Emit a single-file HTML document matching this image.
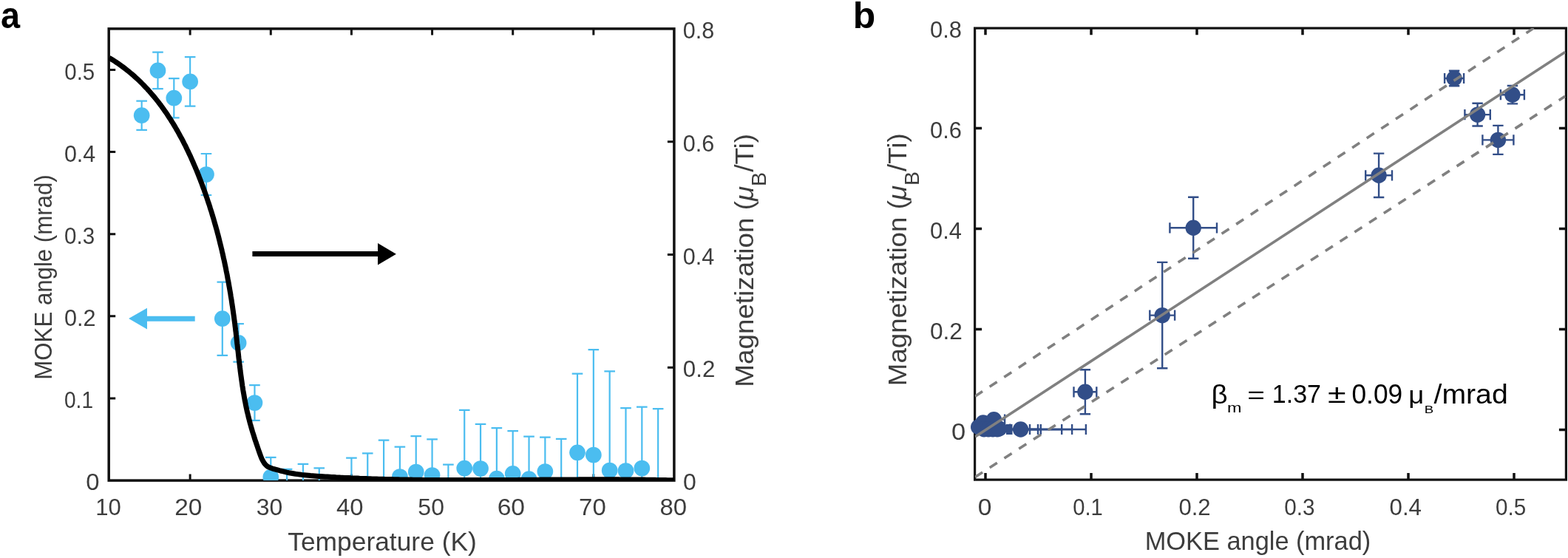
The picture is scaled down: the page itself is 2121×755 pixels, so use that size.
<!DOCTYPE html><html><head><meta charset="utf-8"><style>html,body{margin:0;padding:0;background:#fff;width:2121px;height:755px;overflow:hidden}svg{display:block}text{font-family:"Liberation Sans", Arial, sans-serif}</style></head><body>
<svg width="2121" height="755" viewBox="0 0 2121 755">
<rect width="2121" height="755" fill="#fff"/>
<defs><clipPath id="ca"><rect x="147.2" y="38.9" width="764.7" height="611.2"/></clipPath></defs>
<g stroke="#111111" stroke-width="3.5" fill="none">
<rect x="147.2" y="38.9" width="764.7" height="611.2"/>
<path d="M257.14,650.10V641.60M257.14,38.90V47.40M366.28,650.10V641.60M366.28,38.90V47.40M475.42,650.10V641.60M475.42,38.90V47.40M584.56,650.10V641.60M584.56,38.90V47.40M693.70,650.10V641.60M693.70,38.90V47.40M802.84,650.10V641.60M802.84,38.90V47.40M147.20,538.90H156.20M147.20,427.80H156.20M147.20,316.70H156.20M147.20,205.60H156.20M147.20,94.50H156.20M911.90,497.25H902.90M911.90,344.50H902.90M911.90,191.75H902.90" stroke-width="3"/>
</g>
<g clip-path="url(#ca)">
<g stroke="#4bbdf0" stroke-width="2.2" fill="none">
<path d="M191.66,136.60V175.80M184.36,136.60H198.96M184.36,175.80H198.96"/>
<path d="M213.48,70.60V120.20M206.18,70.60H220.78M206.18,120.20H220.78"/>
<path d="M235.31,106.10V159.30M228.01,106.10H242.61M228.01,159.30H242.61"/>
<path d="M257.14,77.20V143.60M249.84,77.20H264.44M249.84,143.60H264.44"/>
<path d="M278.97,208.00V264.00M271.67,208.00H286.27M271.67,264.00H286.27"/>
<path d="M300.80,381.60V480.80M293.50,381.60H308.10M293.50,480.80H308.10"/>
<path d="M322.62,438.10V489.70M315.32,438.10H329.92M315.32,489.70H329.92"/>
<path d="M344.45,521.20V568.80M337.15,521.20H351.75M337.15,568.80H351.75"/>
<path d="M366.28,618.80V672.20M358.98,618.80H373.58M358.98,672.20H373.58"/>
<path d="M388.11,634.80V689.20M380.81,634.80H395.41M380.81,689.20H395.41"/>
<path d="M409.94,627.80V696.20M402.64,627.80H417.24M402.64,696.20H417.24"/>
<path d="M431.76,633.30V690.70M424.46,633.30H439.06M424.46,690.70H439.06"/>
<path d="M475.42,619.60V704.40M468.12,619.60H482.72M468.12,704.40H482.72"/>
<path d="M497.25,613.30V710.70M489.95,613.30H504.55M489.95,710.70H504.55"/>
<path d="M519.08,595.60V728.40M511.78,595.60H526.38M511.78,728.40H526.38"/>
<path d="M540.90,604.70V685.30M533.60,604.70H548.20M533.60,685.30H548.20"/>
<path d="M562.73,590.10V686.90M555.43,590.10H570.03M555.43,686.90H570.03"/>
<path d="M584.56,594.30V691.70M577.26,594.30H591.86M577.26,691.70H591.86"/>
<path d="M606.39,628.70V695.30M599.09,628.70H613.69M599.09,695.30H613.69"/>
<path d="M628.22,554.80V712.40M620.92,554.80H635.52M620.92,712.40H635.52"/>
<path d="M650.04,573.90V694.10M642.74,573.90H657.34M642.74,694.10H657.34"/>
<path d="M671.87,579.20V716.00M664.57,579.20H679.17M664.57,716.00H679.17"/>
<path d="M693.70,583.20V698.60M686.40,583.20H701.00M686.40,698.60H701.00"/>
<path d="M715.53,590.60V705.60M708.23,590.60H722.83M708.23,705.60H722.83"/>
<path d="M737.36,591.70V684.30M730.06,591.70H744.66M730.06,684.30H744.66"/>
<path d="M759.18,593.80V730.20M751.88,593.80H766.48M751.88,730.20H766.48"/>
<path d="M781.01,505.60V719.00M773.71,505.60H788.31M773.71,719.00H788.31"/>
<path d="M802.84,473.20V757.80M795.54,473.20H810.14M795.54,757.80H810.14"/>
<path d="M824.67,502.40V770.60M817.37,502.40H831.97M817.37,770.60H831.97"/>
<path d="M846.50,552.20V721.80M839.20,552.20H853.80M839.20,721.80H853.80"/>
<path d="M868.32,550.60V716.40M861.02,550.60H875.62M861.02,716.40H875.62"/>
<path d="M890.15,553.20V770.80M882.85,553.20H897.45M882.85,770.80H897.45"/>
</g>
<g fill="#4bbdf0">
<circle cx="191.66" cy="156.20" r="10.85"/>
<circle cx="213.48" cy="95.40" r="10.85"/>
<circle cx="235.31" cy="132.70" r="10.85"/>
<circle cx="257.14" cy="110.40" r="10.85"/>
<circle cx="278.97" cy="236.00" r="10.85"/>
<circle cx="300.80" cy="431.20" r="10.85"/>
<circle cx="322.62" cy="463.90" r="10.85"/>
<circle cx="344.45" cy="545.00" r="10.85"/>
<circle cx="366.28" cy="645.50" r="10.85"/>
<circle cx="540.90" cy="645.00" r="10.85"/>
<circle cx="562.73" cy="638.50" r="10.85"/>
<circle cx="584.56" cy="643.00" r="10.85"/>
<circle cx="628.22" cy="633.60" r="10.85"/>
<circle cx="650.04" cy="634.00" r="10.85"/>
<circle cx="671.87" cy="647.60" r="10.85"/>
<circle cx="693.70" cy="640.90" r="10.85"/>
<circle cx="715.53" cy="648.10" r="10.85"/>
<circle cx="737.36" cy="638.00" r="10.85"/>
<circle cx="781.01" cy="612.30" r="10.85"/>
<circle cx="802.84" cy="615.50" r="10.85"/>
<circle cx="824.67" cy="636.50" r="10.85"/>
<circle cx="846.50" cy="637.00" r="10.85"/>
<circle cx="868.32" cy="633.50" r="10.85"/>
</g>
<path d="M147.6,78.1 150.1,79.7 152.7,81.3 155.2,82.9 157.6,84.5 160.1,86.2 162.5,87.9 164.9,89.6 167.3,91.4 169.6,93.1 171.9,95.0 174.2,96.8 176.4,98.6 178.7,100.5 180.9,102.4 183.0,104.4 185.2,106.3 187.3,108.3 189.4,110.3 191.5,112.4 193.5,114.4 195.5,116.5 197.5,118.6 199.5,120.7 201.4,122.8 203.3,125.0 205.2,127.2 207.1,129.4 209.0,131.6 210.8,133.9 212.6,136.1 214.4,138.4 216.1,140.7 217.9,143.0 219.6,145.3 221.3,147.7 222.9,150.1 224.6,152.4 226.2,154.8 227.8,157.3 229.4,159.7 231.0,162.1 232.5,164.6 234.1,167.1 235.6,169.6 237.1,172.1 238.5,174.6 240.0,177.1 241.4,179.7 242.8,182.2 244.2,184.8 245.6,187.3 247.0,189.9 248.3,192.5 249.6,195.1 251.0,197.7 252.3,200.4 253.5,203.0 254.8,205.6 256.0,208.3 257.3,210.9 258.5,213.6 259.7,216.3 260.9,219.0 262.0,221.6 263.2,224.3 264.3,227.0 265.5,229.7 266.6,232.4 267.7,235.1 268.8,237.9 269.8,240.6 270.9,243.3 271.9,246.0 273.0,248.7 274.0,251.5 275.0,254.2 276.0,256.9 277.0,259.7 278.0,262.4 278.9,265.2 279.9,267.9 280.8,270.7 281.7,273.5 282.7,276.2 283.6,279.0 284.4,281.8 285.3,284.5 286.2,287.3 287.0,290.1 287.9,292.9 288.7,295.6 289.5,298.4 290.3,301.2 291.1,304.0 291.9,306.8 292.7,309.6 293.5,312.4 294.2,315.2 295.0,318.0 295.7,320.9 296.4,323.7 297.1,326.5 297.8,329.3 298.5,332.1 299.2,335.0 299.9,337.8 300.5,340.6 301.2,343.5 301.8,346.3 302.4,349.1 303.1,352.0 303.7,354.8 304.3,357.7 304.9,360.5 305.5,363.4 306.0,366.2 306.6,369.1 307.2,371.9 307.7,374.8 308.2,377.7 308.8,380.5 309.3,383.4 309.8,386.3 310.3,389.1 310.8,392.0 311.3,394.9 311.8,397.7 312.2,400.6 312.7,403.5 313.2,406.4 313.6,409.3 314.0,412.2 314.5,415.1 314.9,417.9 315.3,420.8 315.7,423.7 316.1,426.6 316.5,429.5 316.9,432.4 317.3,435.3 317.7,438.2 318.0,441.1 318.4,444.0 318.7,446.9 319.1,449.8 319.4,452.7 319.8,455.7 320.1,458.6 320.4,461.5 320.7,464.4 321.1,467.3 321.4,470.2 321.7,473.1 322.1,476.0 322.4,478.9 322.7,481.8 323.0,484.7 323.4,487.6 323.7,490.5 324.1,493.4 324.4,496.3 324.8,499.2 325.1,502.1 325.5,505.0 325.9,507.9 326.3,510.8 326.7,513.7 327.1,516.6 327.5,519.4 327.9,522.3 328.4,525.2 328.8,528.0 329.3,530.9 329.8,533.7 330.3,536.6 330.8,539.4 331.3,542.3 331.9,545.1 332.4,547.9 333.0,550.8 333.6,553.6 334.2,556.4 334.9,559.2 335.6,562.0 336.2,564.8 337.0,567.6 337.7,570.4 338.4,573.1 339.2,575.9 340.0,578.7 340.8,581.5 341.6,584.2 342.5,587.0 343.4,589.8 344.2,592.6 345.1,595.3 346.1,598.1 347.0,600.9 348.0,603.7 348.9,606.5 349.9,609.4 350.9,612.2 351.9,615.0 353.0,617.9 354.1,620.7 355.4,623.3 356.9,625.8 358.6,628.1 360.6,630.2 362.9,631.8 365.5,632.9 368.1,633.8 370.8,634.6 373.6,635.4 376.4,636.2 379.3,637.0 382.2,637.7 385.1,638.4 388.0,639.1 391.0,639.7 393.9,640.2 396.8,640.7 399.7,641.2 402.6,641.6 405.5,642.0 408.4,642.4 411.3,642.7 414.2,643.0 417.0,643.3 419.9,643.6 422.8,643.8 425.7,644.0 428.6,644.2 431.5,644.4 434.3,644.6 437.2,644.8 440.1,645.0 443.0,645.1 445.9,645.3 448.7,645.5 451.6,645.6 454.5,645.8 457.4,645.9 460.3,646.1 463.2,646.2 466.1,646.4 469.0,646.5 471.9,646.6 474.7,646.8 477.6,646.9 480.5,647.0 483.4,647.1 486.3,647.3 489.2,647.4 492.1,647.5 495.0,647.6 497.9,647.7 500.8,647.8 503.7,647.9 506.6,648.0 509.5,648.1 512.4,648.2 515.3,648.2 518.2,648.3 521.1,648.4 524.0,648.5 527.0,648.5 529.9,648.6 532.8,648.7 535.7,648.7 538.6,648.8 541.5,648.9 544.4,648.9 547.3,649.0 550.2,649.0 553.1,649.1 556.1,649.1 559.0,649.2 561.9,649.2 564.8,649.3 567.7,649.3 570.6,649.3 573.5,649.4 576.5,649.4 579.4,649.4 582.3,649.4 585.2,649.5 588.1,649.5 591.0,649.5 594.0,649.5 596.9,649.6 599.8,649.6 602.7,649.6 605.6,649.6 608.6,649.6 611.5,649.6 614.4,649.6 617.3,649.6 620.2,649.6 623.2,649.6 626.1,649.6 629.0,649.6 631.9,649.6 634.9,649.6 637.8,649.6 640.7,649.6 643.6,649.6 646.5,649.6 649.5,649.6 652.4,649.6 655.3,649.6 658.2,649.6 661.2,649.6 664.1,649.6 667.0,649.5 669.9,649.5 672.9,649.5 675.8,649.5 678.7,649.5 681.6,649.5 684.6,649.5 687.5,649.4 690.4,649.4 693.3,649.4 696.3,649.4 699.2,649.4 702.1,649.3 705.0,649.3 708.0,649.3 710.9,649.3 713.8,649.3 716.7,649.2 719.7,649.2 722.6,649.2 725.5,649.2 728.4,649.2 731.4,649.1 734.3,649.1 737.2,649.1 740.1,649.1 743.1,649.1 746.0,649.0 748.9,649.0 751.8,649.0 754.8,649.0 757.7,649.0 760.6,648.9 763.5,648.9 766.4,648.9 769.4,648.9 772.3,648.9 775.2,648.9 778.1,648.9 781.0,648.9 784.0,648.8 786.9,648.8 789.8,648.8 792.7,648.8 795.6,648.8 798.6,648.8 801.5,648.8 804.4,648.8 807.3,648.8 810.2,648.8 813.1,648.8 816.0,648.8 819.0,648.8 821.9,648.8 824.8,648.8 827.7,648.8 830.6,648.8 833.5,648.8 836.4,648.8 839.3,648.9 842.3,648.9 845.2,648.9 848.1,648.9 851.0,648.9 853.9,649.0 856.8,649.0 859.7,649.0 862.6,649.0 865.5,649.1 868.4,649.1 871.3,649.1 874.2,649.2 877.1,649.2 880.0,649.2 882.9,649.3 885.8,649.3 888.7,649.4 891.6,649.4 894.5,649.5 897.4,649.5 900.3,649.6 903.2,649.7 906.1,649.7 909.0,649.8 911.9,649.9" fill="none" stroke="#000" stroke-width="7" stroke-linejoin="round"/>
</g>

<path d="M341.4,343.6H512" stroke="#000" stroke-width="7"/>
<path d="M511,329.1L535.9,343.7L511,358.4Z" fill="#000"/>
<path d="M263.7,431.2H198" stroke="#4bbdf0" stroke-width="7"/>
<path d="M199,416.7L174.1,431.1L199,445.4Z" fill="#4bbdf0"/>
<g stroke="#111111" stroke-width="3.2" fill="none">
<rect x="1318.6" y="38.1" width="799.8" height="611.0"/>
<path d="M1333.00,649.10V639.90M1333.00,38.10V47.30M1476.00,649.10V639.90M1476.00,38.10V47.30M1619.00,649.10V639.90M1619.00,38.10V47.30M1762.00,649.10V639.90M1762.00,38.10V47.30M1905.00,649.10V639.90M1905.00,38.10V47.30M2048.00,649.10V639.90M2048.00,38.10V47.30M1318.60,581.60H1328.10M2118.40,581.60H2108.90M1318.60,445.60H1328.10M2118.40,445.60H2108.90M1318.60,309.60H1328.10M2118.40,309.60H2108.90M1318.60,173.60H1328.10M2118.40,173.60H2108.90" stroke-width="3.5"/>
</g>
<g stroke="#324e88" stroke-width="2.4" fill="none">
<path d="M1452.50,530.30H1483.30M1452.50,523.20V537.40M1483.30,523.20V537.40"/>
<path d="M1467.90,500.30V560.30M1460.70,500.30H1475.10M1460.70,560.30H1475.10"/>
<path d="M1555.30,426.60H1589.10M1555.30,419.50V433.70M1589.10,419.50V433.70"/>
<path d="M1572.20,354.90V498.30M1565.00,354.90H1579.40M1565.00,498.30H1579.40"/>
<path d="M1582.40,308.30H1646.00M1582.40,301.20V315.40M1646.00,301.20V315.40"/>
<path d="M1614.20,266.80V349.80M1607.00,266.80H1621.40M1607.00,349.80H1621.40"/>
<path d="M1847.20,237.30H1883.00M1847.20,230.20V244.40M1883.00,230.20V244.40"/>
<path d="M1865.10,207.60V267.00M1857.90,207.60H1872.30M1857.90,267.00H1872.30"/>
<path d="M1954.10,106.00H1980.10M1954.10,98.90V113.10M1980.10,98.90V113.10"/>
<path d="M1967.10,95.70V116.30M1959.90,95.70H1974.30M1959.90,116.30H1974.30"/>
<path d="M1981.40,155.10H2015.80M1981.40,148.00V162.20M2015.80,148.00V162.20"/>
<path d="M1998.60,139.70V170.50M1991.40,139.70H2005.80M1991.40,170.50H2005.80"/>
<path d="M2029.90,128.20H2061.90M2029.90,121.10V135.30M2061.90,121.10V135.30"/>
<path d="M2045.90,116.00V140.40M2038.70,116.00H2053.10M2038.70,140.40H2053.10"/>
<path d="M2005.40,189.40H2047.40M2005.40,182.30V196.50M2047.40,182.30V196.50"/>
<path d="M2026.40,169.90V208.90M2019.20,169.90H2033.60M2019.20,208.90H2033.60"/>
<path d="M1345.00,567.60H1359.10M1359.10,560.60V574.60"/>
<path d="M1352.00,580.40H1366.30M1366.30,573.40V587.40"/>
<path d="M1380.60,581.00H1393.00M1393.00,574.00V588.00"/>
<path d="M1352.00,581.00H1404.00M1404.00,574.00V588.00"/>
<path d="M1352.00,581.00H1407.80M1407.80,574.00V588.00"/>
<path d="M1352.00,581.00H1436.20M1436.20,574.00V588.00"/>
<path d="M1352.00,581.00H1450.10M1450.10,574.00V588.00"/>
<path d="M1352.00,581.00H1468.90M1468.90,574.00V588.00"/>
</g>
<g fill="#324e88">
<circle cx="1467.90" cy="530.30" r="10.70"/>
<circle cx="1572.20" cy="426.60" r="10.70"/>
<circle cx="1614.20" cy="308.30" r="10.70"/>
<circle cx="1865.10" cy="237.30" r="10.70"/>
<circle cx="1967.10" cy="106.00" r="10.70"/>
<circle cx="1998.60" cy="155.10" r="10.70"/>
<circle cx="2045.90" cy="128.20" r="10.70"/>
<circle cx="2026.40" cy="189.40" r="10.70"/>
<circle cx="1323.70" cy="577.80" r="10.70"/>
<circle cx="1329.90" cy="572.00" r="10.70"/>
<circle cx="1344.40" cy="567.70" r="10.70"/>
<circle cx="1331.00" cy="580.70" r="10.70"/>
<circle cx="1337.00" cy="580.70" r="10.70"/>
<circle cx="1343.00" cy="580.70" r="10.70"/>
<circle cx="1349.00" cy="580.70" r="10.70"/>
<circle cx="1351.50" cy="580.00" r="10.70"/>
<circle cx="1380.60" cy="581.00" r="10.70"/>
<rect x="1361" y="574" width="8.5" height="14"/>
</g>
<defs><clipPath id="cb"><rect x="1318.6" y="38.1" width="799.8" height="611.0"/></clipPath></defs>
<g clip-path="url(#cb)" stroke="#808080" stroke-width="3.6" fill="none">
<path d="M1319,591 L2117,70.5"/>
<path d="M1319,536.2 L2075.6,37.4" stroke-dasharray="12 11.5"/>
<path d="M1319,645.5 L2117,130.3" stroke-dasharray="12 11.5"/>
</g>
<g transform="matrix(0.9370,0,0,0.9926,0.96,38.20)"><text x="0" y="0" font-size="50" fill="#000" font-weight="bold">a</text></g>
<g transform="matrix(0.9962,0,0,0.9944,1153.71,38.20)"><text x="0" y="0" font-size="50" fill="#000" font-weight="bold">b</text></g>
<g transform="matrix(1.0032,0,0,1.0182,129.29,697.40)"><text x="0" y="0" font-size="31" fill="#3d3d3d" >10</text></g>
<g transform="matrix(1.0774,0,0,1.0182,236.25,697.40)"><text x="0" y="0" font-size="31" fill="#3d3d3d" >20</text></g>
<g transform="matrix(1.0312,0,0,1.0182,346.77,697.40)"><text x="0" y="0" font-size="31" fill="#3d3d3d" >30</text></g>
<g transform="matrix(1.0594,0,0,1.0182,455.04,697.40)"><text x="0" y="0" font-size="31" fill="#3d3d3d" >40</text></g>
<g transform="matrix(1.0312,0,0,1.0182,565.37,697.40)"><text x="0" y="0" font-size="31" fill="#3d3d3d" >50</text></g>
<g transform="matrix(1.0839,0,0,1.0182,672.63,697.40)"><text x="0" y="0" font-size="31" fill="#3d3d3d" >60</text></g>
<g transform="matrix(1.0645,0,0,1.0182,783.07,697.40)"><text x="0" y="0" font-size="31" fill="#3d3d3d" >70</text></g>
<g transform="matrix(1.0625,0,0,1.0182,892.54,697.40)"><text x="0" y="0" font-size="31" fill="#3d3d3d" >80</text></g>
<g transform="matrix(1.0600,0,0,1.0091,116.24,663.20)"><text x="0" y="0" font-size="31" fill="#3d3d3d" >0</text></g>
<g transform="matrix(0.9050,0,0,1.0091,87.00,552.10)"><text x="0" y="0" font-size="31" fill="#3d3d3d" >0.1</text></g>
<g transform="matrix(0.9875,0,0,1.0091,87.01,441.00)"><text x="0" y="0" font-size="31" fill="#3d3d3d" >0.2</text></g>
<g transform="matrix(0.9537,0,0,1.0091,87.05,329.90)"><text x="0" y="0" font-size="31" fill="#3d3d3d" >0.3</text></g>
<g transform="matrix(0.9829,0,0,1.0091,86.92,218.80)"><text x="0" y="0" font-size="31" fill="#3d3d3d" >0.4</text></g>
<g transform="matrix(0.9512,0,0,1.0091,87.25,107.70)"><text x="0" y="0" font-size="31" fill="#3d3d3d" >0.5</text></g>
<g transform="matrix(1.0333,0,0,1.0091,923.97,663.20)"><text x="0" y="0" font-size="31" fill="#3d3d3d" >0</text></g>
<g transform="matrix(1.0100,0,0,1.0091,923.79,510.45)"><text x="0" y="0" font-size="31" fill="#3d3d3d" >0.2</text></g>
<g transform="matrix(0.9854,0,0,1.0091,923.81,357.70)"><text x="0" y="0" font-size="31" fill="#3d3d3d" >0.4</text></g>
<g transform="matrix(0.9854,0,0,1.0091,923.81,204.95)"><text x="0" y="0" font-size="31" fill="#3d3d3d" >0.6</text></g>
<g transform="matrix(0.9854,0,0,1.0091,923.81,52.20)"><text x="0" y="0" font-size="31" fill="#3d3d3d" >0.8</text></g>
<g transform="matrix(1.1133,0,0,1.0091,1286.99,594.80)"><text x="0" y="0" font-size="31" fill="#3d3d3d" >0</text></g>
<g transform="matrix(1.0200,0,0,1.0091,1257.98,458.80)"><text x="0" y="0" font-size="31" fill="#3d3d3d" >0.2</text></g>
<g transform="matrix(0.9951,0,0,1.0091,1258.00,322.80)"><text x="0" y="0" font-size="31" fill="#3d3d3d" >0.4</text></g>
<g transform="matrix(0.9951,0,0,1.0091,1258.00,186.80)"><text x="0" y="0" font-size="31" fill="#3d3d3d" >0.6</text></g>
<g transform="matrix(0.9951,0,0,1.0091,1258.00,50.80)"><text x="0" y="0" font-size="31" fill="#3d3d3d" >0.8</text></g>
<g transform="matrix(1.0867,0,0,1.0091,1322.81,697.00)"><text x="0" y="0" font-size="31" fill="#3d3d3d" >0</text></g>
<g transform="matrix(0.9425,0,0,1.0091,1451.16,697.00)"><text x="0" y="0" font-size="31" fill="#3d3d3d" >0.1</text></g>
<g transform="matrix(1.0025,0,0,1.0091,1594.40,697.00)"><text x="0" y="0" font-size="31" fill="#3d3d3d" >0.2</text></g>
<g transform="matrix(0.9585,0,0,1.0091,1737.14,697.00)"><text x="0" y="0" font-size="31" fill="#3d3d3d" >0.3</text></g>
<g transform="matrix(1.0098,0,0,1.0091,1879.49,697.00)"><text x="0" y="0" font-size="31" fill="#3d3d3d" >0.4</text></g>
<g transform="matrix(0.9561,0,0,1.0091,2022.94,697.00)"><text x="0" y="0" font-size="31" fill="#3d3d3d" >0.5</text></g>
<g transform="matrix(0.9829,0,0,0.9629,389.22,744.90)"><text x="0" y="0" font-size="36" fill="#3d3d3d" >Temperature (K)</text></g>
<g transform="matrix(0.9546,0,0,0.9629,1548.74,744.00)"><text x="0" y="0" font-size="36" fill="#3d3d3d" >MOKE angle (mrad)</text></g>
<g transform="rotate(-90) matrix(0.9455,0,0,1.0032,-513.64,70.48)"><text x="0" y="0" font-size="33" fill="#3d3d3d" >MOKE angle (mrad)</text></g>
<g transform="rotate(-90) matrix(1.0227,0,0,0.9733,-523.67,1019.18)"><text x="0" y="0" font-size="36" fill="#3d3d3d" >Magnetization (<tspan font-style="italic">μ</tspan><tspan font-size="28" dy="17.7">B</tspan><tspan dy="-17.7">/Ti)</tspan></text></g>
<g transform="rotate(-90) matrix(1.0203,0,0,0.9756,-522.16,1225.64)"><text x="0" y="0" font-size="36" fill="#3d3d3d" >Magnetization (<tspan font-style="italic">μ</tspan><tspan font-size="28" dy="17.7">B</tspan><tspan dy="-17.7">/Ti)</tspan></text></g>
<g transform="matrix(1.1000,0,0,1.0061,1638.50,545.86)"><text x="0" y="0" font-size="35" fill="#000" >β</text></g>
<g transform="matrix(1.3750,0,0,1.0333,1660.12,558.10)"><text x="0" y="0" font-size="17" fill="#000" >m</text></g>
<g transform="matrix(1.1588,0,0,0.8750,1687.18,545.25)"><text x="0" y="0" font-size="35" fill="#000" >=</text></g>
<g transform="matrix(0.9734,0,0,1.0208,1720.78,545.20)"><text x="0" y="0" font-size="35" fill="#000" >1.37</text></g>
<g transform="matrix(1.2824,0,0,1.0095,1796.12,545.20)"><text x="0" y="0" font-size="35" fill="#000" >±</text></g>
<g transform="matrix(1.0076,0,0,1.0542,1828.49,545.60)"><text x="0" y="0" font-size="35" fill="#000" >0.09</text></g>
<g transform="matrix(1.0438,0,0,0.9385,1905.21,546.33)"><text x="0" y="0" font-size="35" fill="#000" >μ</text></g>
<g transform="matrix(1.1667,0,0,0.9000,1926.83,558.50)"><text x="0" y="0" font-size="16" fill="#000" >B</text></g>
<g transform="matrix(1.1207,0,0,1.0500,1939.50,545.60)"><text x="0" y="0" font-size="35" fill="#000" >/mrad</text></g>
</svg></body></html>
